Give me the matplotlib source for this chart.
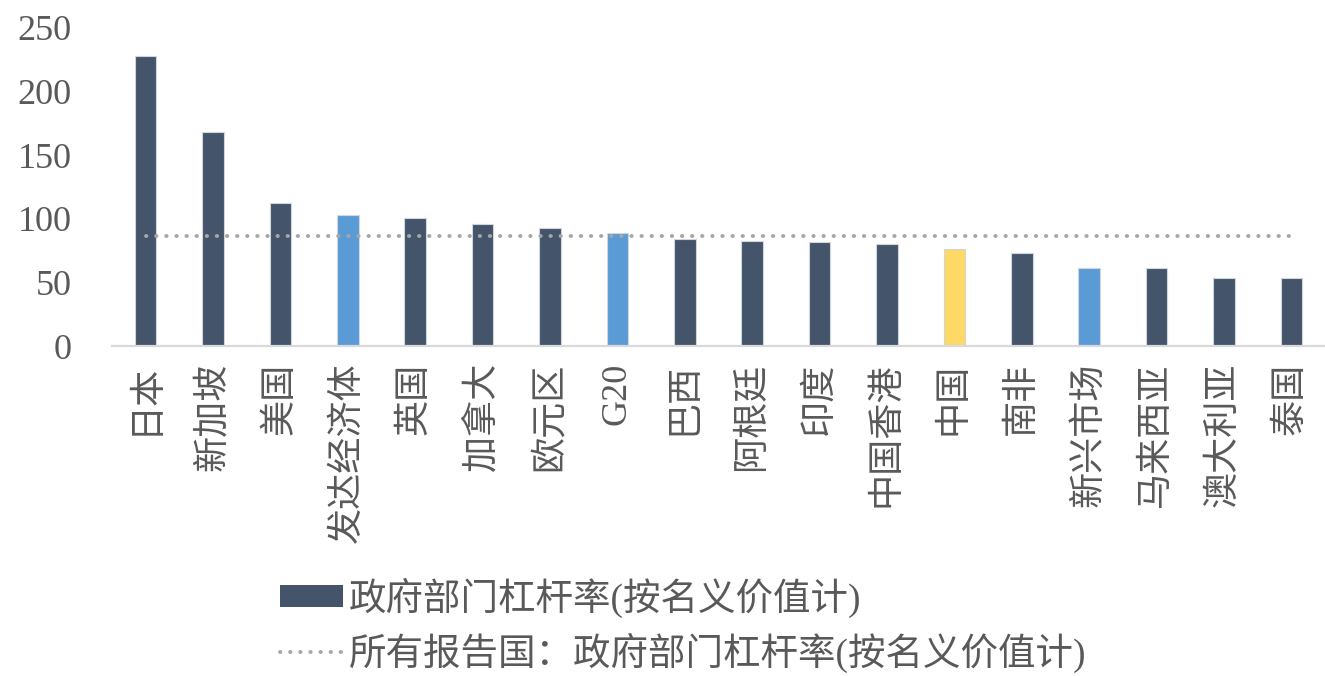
import matplotlib
matplotlib.use('Agg')
import matplotlib.pyplot as plt
from matplotlib.patches import Patch
import numpy as np

plt.rcParams['font.family'] = ['Liberation Serif', 'Noto Sans CJK SC']
plt.rcParams['axes.unicode_minus'] = False

# 政府部门杠杆率 (%GDP)
regions = ['日本', '新加坡', '美国', '发达经济体', '英国', '加拿大', '欧元区', 'G20',
           '巴西', '阿根廷', '印度', '中国香港', '中国', '南非', '新兴市场',
           '马来西亚', '澳大利亚', '泰国']
leverage = [228.0, 168.0, 112.8, 103.1, 101.0, 95.7, 93.0, 88.9,
            84.4, 82.3, 81.8, 80.0, 76.3, 72.9, 61.3, 61.3, 53.2, 53.2]
all_reporting = 86.4
groups = ['c', 'c', 'c', 'agg', 'c', 'c', 'c', 'agg',
          'c', 'c', 'c', 'c', 'cn', 'c', 'agg', 'c', 'c', 'c']
group_color = {'c': '#44546A', 'agg': '#5B9BD5', 'cn': '#FFD966'}

bar_label = '政府部门杠杆率(按名义价值计)'
line_label = '所有报告国：政府部门杠杆率(按名义价值计)'

text_c = '#595959'
fs = 26

fig = plt.figure(figsize=(13.25, 6.76), dpi=100)
ax = fig.add_axes([0.0845, 0.488, 0.9155, 0.4706])

x = np.arange(len(regions))
ax.bar(x, leverage, width=0.32, color=[group_color[g] for g in groups],
       edgecolor='#D0D6DE', linewidth=0.8, zorder=2)
line, = ax.plot([x[0], x[-1]], [all_reporting, all_reporting], color='#A6A6A6',
                lw=2.8, linestyle=(0, (0.1, 2.5)), dash_capstyle='round', zorder=3)

ax.set_xlim(-0.5, len(regions) - 0.5)
ax.set_ylim(0, 250)
ax.set_yticks([0, 50, 100, 150, 200, 250])
ax.tick_params(axis='y', length=0, pad=29, labelsize=fs, labelcolor=text_c)
ax.tick_params(axis='x', length=0, pad=12, labelsize=fs, labelcolor=text_c)
ax.set_xticks(x)
ax.set_xticklabels(regions, rotation=90, va='top', ha='center')

for s in ['top', 'right', 'left']:
    ax.spines[s].set_visible(False)
ax.spines['bottom'].set_color('#D9D9D9')
ax.spines['bottom'].set_linewidth(1.6)

# legend patch without the bar outline
h_bar = Patch(facecolor='#44546A', edgecolor='none')
leg = fig.legend([h_bar, line], [bar_label, line_label],
                 loc='upper left', bbox_to_anchor=(0.211, 0.146),
                 frameon=False, fontsize=fs + 1, handlelength=1.7, handleheight=0.55,
                 handletextpad=0.15, labelspacing=0.4, borderpad=0, borderaxespad=0)
for t in leg.get_texts():
    t.set_color(text_c)

fig.savefig('out.png', dpi=100)
